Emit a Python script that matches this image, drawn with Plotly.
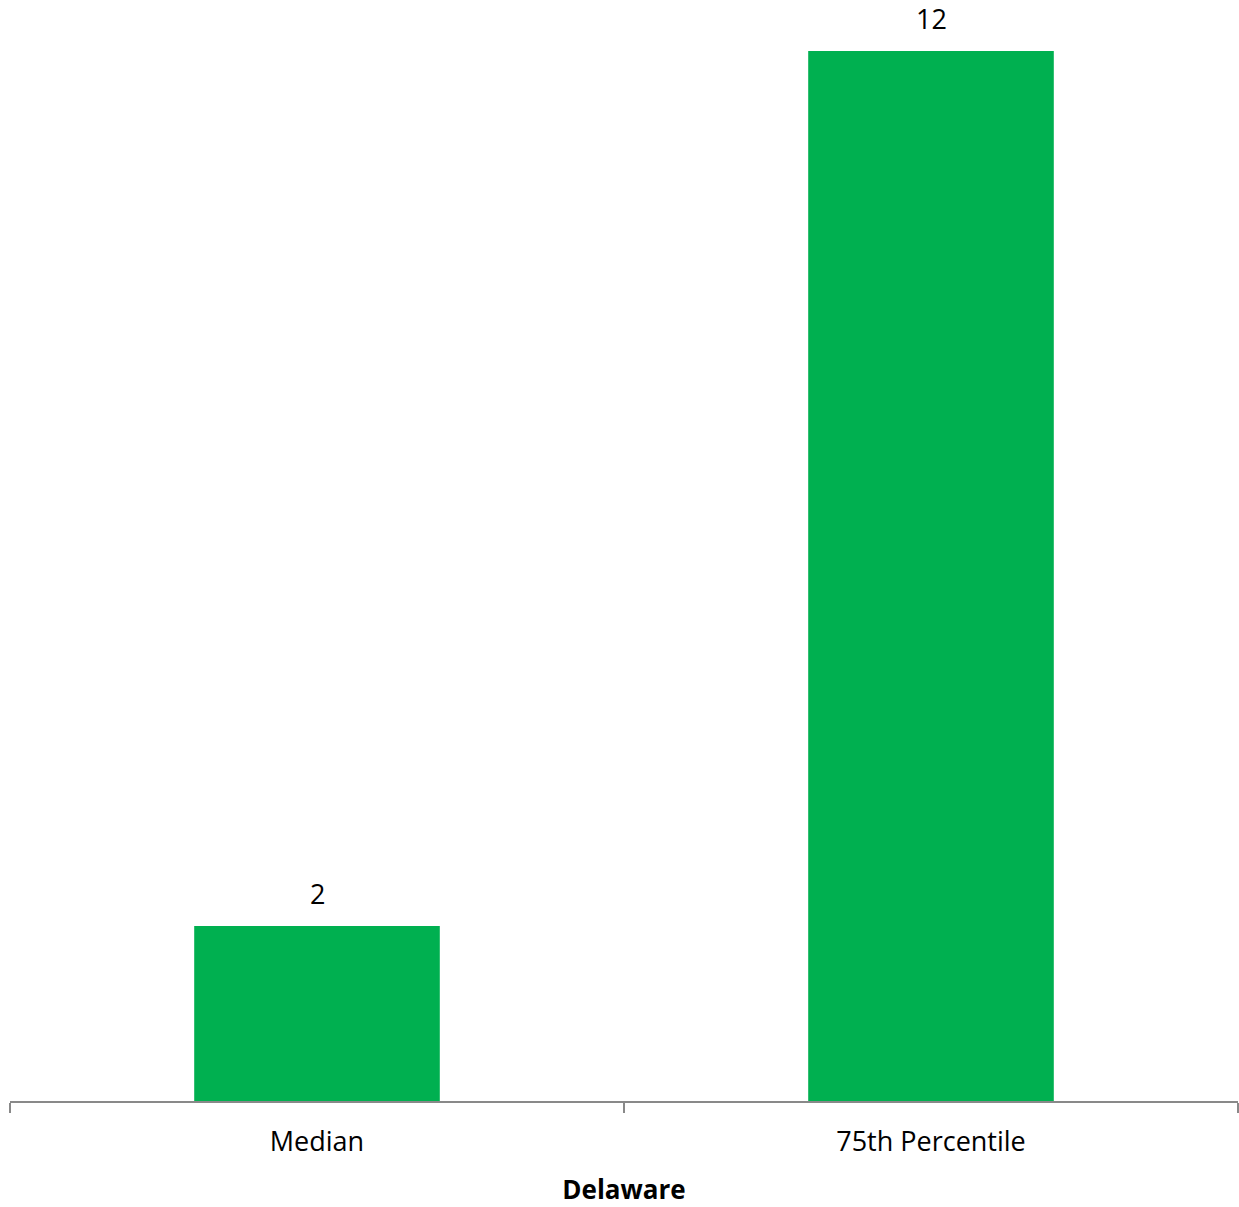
import plotly.graph_objects as go

categories = ["Median", "75th Percentile"]
values = [2, 12]
x_title = "Delaware"

FONT = "Open Sans"

fig = go.Figure(go.Bar(
    x=categories, y=values, width=0.4,
    marker=dict(color="#00B050", line=dict(width=0)),
    cliponaxis=False,
))

for c, v in zip(categories, values):
    fig.add_annotation(
        x=c, y=v, text=str(v), showarrow=False, yanchor="bottom", yshift=12,
        font=dict(family=FONT, size=27, color="#000000"),
    )

fig.update_layout(
    width=1239, height=1207,
    margin=dict(l=10, r=1, t=0, b=106, autoexpand=False),
    plot_bgcolor="white", paper_bgcolor="white",
    showlegend=False,
    xaxis=dict(
        title=dict(text="<b>" + x_title + "</b>", font=dict(family=FONT, size=26, color="#000"), standoff=22),
        tickson="boundaries", ticks="outside", ticklen=10, tickwidth=2, tickcolor="#898989",
        showline=True, linecolor="#898989", linewidth=2,
        tickfont=dict(family=FONT, size=27, color="#000"),
        ticklabelstandoff=16,
        automargin=False,
    ),
    yaxis=dict(range=[0, 1101 / 87.5], visible=False, showgrid=False),
)

fig.write_html(
    "out.html",
    config={"displayModeBar": False},
    post_script="document.body.style.margin='0';document.body.style.overflow='hidden';",
)
